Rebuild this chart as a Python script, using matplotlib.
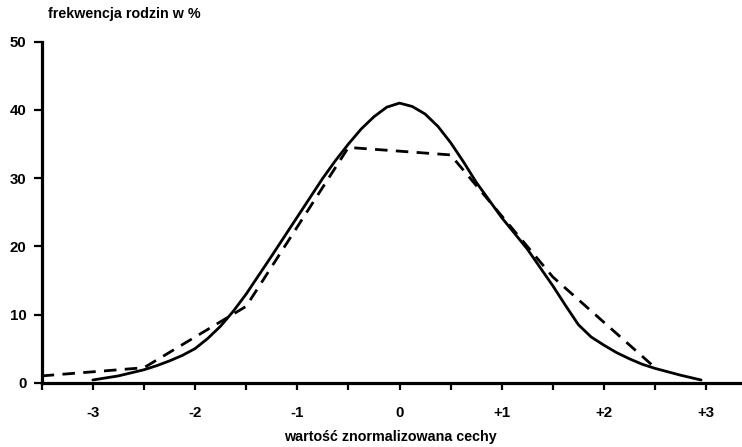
import matplotlib
matplotlib.use("Agg")
import matplotlib.pyplot as plt
from matplotlib.ticker import MultipleLocator

# Solid curve (theoretical distribution)
solid_x = [-3.0, -2.75, -2.5, -2.375, -2.25, -2.125, -2.0, -1.875, -1.75, -1.625,
           -1.5, -1.25, -1.0, -0.75, -0.625, -0.5, -0.375, -0.25, -0.125, 0.0,
           0.125, 0.25, 0.375, 0.5, 0.625, 0.75, 1.0, 1.25, 1.5, 1.625, 1.75,
           1.875, 2.0, 2.125, 2.25, 2.375, 2.5, 2.75, 2.95]
solid_y = [0.4, 1.0, 1.9, 2.5, 3.2, 4.0, 5.0, 6.5, 8.3, 10.5,
           13.0, 18.6, 24.3, 30.0, 32.6, 35.0, 37.2, 39.0, 40.4, 41.0,
           40.5, 39.4, 37.6, 35.2, 32.4, 29.4, 24.2, 19.6, 14.2, 11.3, 8.5,
           6.7, 5.5, 4.4, 3.5, 2.7, 2.1, 1.1, 0.4]

# Dashed line (empirical distribution)
dash_x = [-3.5, -2.5, -1.5, -0.5, 0.5, 1.5, 2.5]
dash_y = [1.0, 2.2, 11.2, 34.5, 33.4, 15.5, 2.2]

x_ticks = [-3, -2, -1, 0, 1, 2, 3]
x_tick_labels = ["-3", "-2", "-1", "0", "+1", "+2", "+3"]
y_ticks = [0, 10, 20, 30, 40, 50]

plt.rcParams['font.family'] = ['Liberation Sans', 'DejaVu Sans']

fig = plt.figure(figsize=(7.42, 4.47), dpi=100)
ax = fig.add_axes([0.0562, 0.1438, 0.9438, 0.7629])

ax.plot(solid_x, solid_y, color='black', lw=2.0, solid_joinstyle='round',
        solid_capstyle='round')
ax.plot(dash_x, dash_y, color='black', lw=2.0, linestyle=(0, (4.5, 3)))

ax.set_xlim(-3.5, 3.35)
ax.set_ylim(0, 50)

for s in ['top', 'right']:
    ax.spines[s].set_visible(False)
for s in ['left', 'bottom']:
    ax.spines[s].set_linewidth(2.3)

ax.set_xticks(x_ticks)
ax.set_xticklabels(x_tick_labels)
ax.xaxis.set_minor_locator(MultipleLocator(0.5))
ax.set_yticks(y_ticks)
ax.tick_params(axis='x', which='both', direction='out', length=5, width=1.6, pad=12)
ax.tick_params(axis='y', which='major', direction='out', length=6, width=1.6, pad=5)
for lab in ax.get_xticklabels() + ax.get_yticklabels():
    lab.set_fontsize(10.8)
    lab.set_fontweight('bold')

fig.text(0.065, 0.968, "frekwencja rodzin w %", fontsize=10.3, fontweight='bold',
         ha='left', va='center')
fig.text(0.526, 0.022, "wartość znormalizowana cechy", fontsize=10.3, fontweight='bold',
         ha='center', va='center')

fig.savefig("out.png", dpi=100)
